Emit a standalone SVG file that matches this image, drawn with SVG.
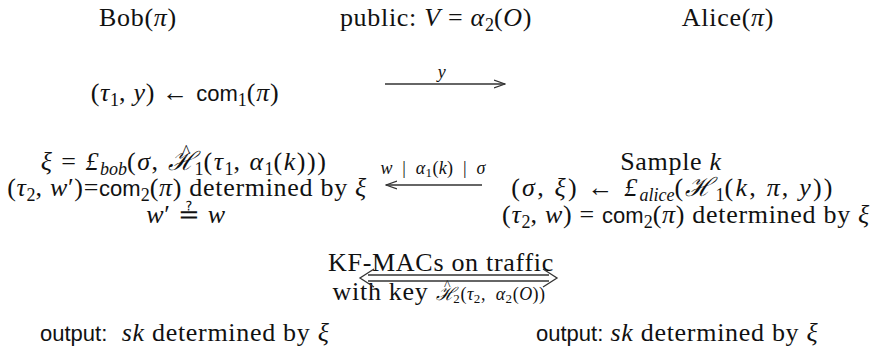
<svg xmlns="http://www.w3.org/2000/svg" width="879" height="354" viewBox="0 0 879 354">
<style>
.t{font-family:"Liberation Serif","Times New Roman",serif;font-size:26px;fill:#111;letter-spacing:0.7px}
.w{letter-spacing:1.5px}
.ww{letter-spacing:2.2px}
.i{font-style:italic}
.sf{font-family:"Liberation Sans",Arial,sans-serif;font-size:22px;letter-spacing:0}
.s{font-size:18px;letter-spacing:0}
.sm{font-size:18px;letter-spacing:0.4px}
.lb{font-size:18px;letter-spacing:0.3px}
.ln{stroke:#333;stroke-width:1.3;fill:none}
</style>
<defs>
<marker id="ah" viewBox="0 0 12 10" refX="11" refY="5" markerWidth="12" markerHeight="10" markerUnits="userSpaceOnUse" orient="auto">
<path d="M0,1 L11,5 L0,9" fill="none" stroke="#333" stroke-width="1.3"/>
</marker>
</defs>
<rect width="879" height="354" fill="#fff"/>
<g id="header">
<text class="t" x="138" y="26" text-anchor="middle">Bob(<tspan class="i">π</tspan>)</text>
<text class="t" x="436" y="26" text-anchor="middle">public: <tspan class="i">V</tspan> = <tspan class="i">α</tspan><tspan class="s" dy="5">2</tspan><tspan dy="-5">(</tspan><tspan class="i">O</tspan>)</text>
<text class="t" x="728" y="26" text-anchor="middle">Alice(<tspan class="i">π</tspan>)</text>
</g>
<g id="bob-commit">
<text class="t" x="185" y="101" text-anchor="middle">(<tspan class="i">τ</tspan><tspan class="s" dy="5">1</tspan><tspan dy="-5">, </tspan><tspan class="i">y</tspan>) ← <tspan class="sf">com</tspan><tspan class="s" dy="5">1</tspan><tspan dy="-5">(</tspan><tspan class="i">π</tspan>)</text>
</g>
<g id="bob-block">
<text class="t w" x="184" y="170" text-anchor="middle"><tspan class="i">ξ</tspan> = <tspan class="i">£</tspan><tspan class="s i" dy="5">bob</tspan><tspan dy="-5">(</tspan><tspan class="i">σ</tspan>, <tspan class="i">ℋ</tspan><tspan class="s" dx="-15" dy="-12">^</tspan><tspan class="s" dx="4" dy="17">1</tspan><tspan dy="-5">(</tspan><tspan class="i">τ</tspan><tspan class="s" dy="5">1</tspan><tspan dy="-5">, </tspan><tspan class="i">α</tspan><tspan class="s" dy="5">1</tspan><tspan dy="-5">(</tspan><tspan class="i">k</tspan>)))</text>
<text class="t" x="187" y="196" text-anchor="middle">(<tspan class="i">τ</tspan><tspan class="s" dy="5">2</tspan><tspan dy="-5">, </tspan><tspan class="i">w</tspan>′)=<tspan class="sf">com</tspan><tspan class="s" dy="5">2</tspan><tspan dy="-5">(</tspan><tspan class="i">π</tspan>) determined by <tspan class="i">ξ</tspan></text>
<text class="t" x="186" y="223" text-anchor="middle"><tspan class="i">w</tspan>′ ≟ <tspan class="i">w</tspan></text>
</g>
<g id="alice-block">
<text class="t" x="671" y="170" text-anchor="middle">Sample <tspan class="i">k</tspan></text>
<text class="t ww" x="673" y="196" text-anchor="middle">(<tspan class="i">σ</tspan>, <tspan class="i">ξ</tspan>) ← <tspan class="i">£</tspan><tspan class="s i" dy="5">alice</tspan><tspan dy="-5">(</tspan><tspan class="i">ℋ</tspan><tspan class="s" dy="5">1</tspan><tspan dy="-5">(</tspan><tspan class="i">k</tspan>, <tspan class="i">π</tspan>, <tspan class="i">y</tspan>))</text>
<text class="t" x="686" y="223" text-anchor="middle">(<tspan class="i">τ</tspan><tspan class="s" dy="5">2</tspan><tspan dy="-5">, </tspan><tspan class="i">w</tspan>) = <tspan class="sf">com</tspan><tspan class="s" dy="5">2</tspan><tspan dy="-5">(</tspan><tspan class="i">π</tspan>) determined by <tspan class="i">ξ</tspan></text>
</g>
<g id="mac-label">
<text class="t" x="441" y="271" text-anchor="middle">KF-MACs on traffic</text>
<text class="t" x="439" y="300" text-anchor="middle">with key <tspan class="i sm">ℋ</tspan><tspan font-size="14" dx="-11" dy="-10">^</tspan><tspan font-size="13" dx="2" dy="13">2</tspan><tspan class="sm" dy="-3">(</tspan><tspan class="i sm">τ</tspan><tspan font-size="13" dy="3">2</tspan><tspan class="sm" dy="-3">,&#160;&#160;</tspan><tspan class="i sm">α</tspan><tspan font-size="13" dy="3">2</tspan><tspan class="sm" dy="-3">(</tspan><tspan class="i sm">O</tspan><tspan class="sm">))</tspan></text>
</g>
<g id="outputs">
<text class="t" x="40" y="341"><tspan class="sf">output:</tspan>&#160;&#160;<tspan class="i">sk</tspan> determined by <tspan class="i">ξ</tspan></text>
<text class="t" x="536" y="341"><tspan class="sf">output:</tspan> <tspan class="i">sk</tspan> determined by <tspan class="i">ξ</tspan></text>
</g>
<g id="connectors">
<line class="ln" x1="385" y1="84" x2="505" y2="84" marker-end="url(#ah)"/>
<text class="t i lb" x="442" y="78" text-anchor="middle">y</text>
<line class="ln" x1="482" y1="185" x2="386" y2="185" marker-end="url(#ah)"/>
<text class="t lb" x="433" y="174" text-anchor="middle"><tspan class="i">w</tspan>&#160;&#160;|&#160;&#160;<tspan class="i">α</tspan><tspan font-size="13" dy="3">1</tspan><tspan dy="-3">(</tspan><tspan class="i">k</tspan>)&#160;&#160;|&#160;&#160;<tspan class="i">σ</tspan></text>
<line class="ln" x1="368" y1="275" x2="549" y2="275"/>
<line class="ln" x1="368" y1="281" x2="549" y2="281"/>
<path class="ln" d="M374,269 L360,278 L374,287"/>
<path class="ln" d="M543,269 L557,278 L543,287"/>
</g>
</svg>
